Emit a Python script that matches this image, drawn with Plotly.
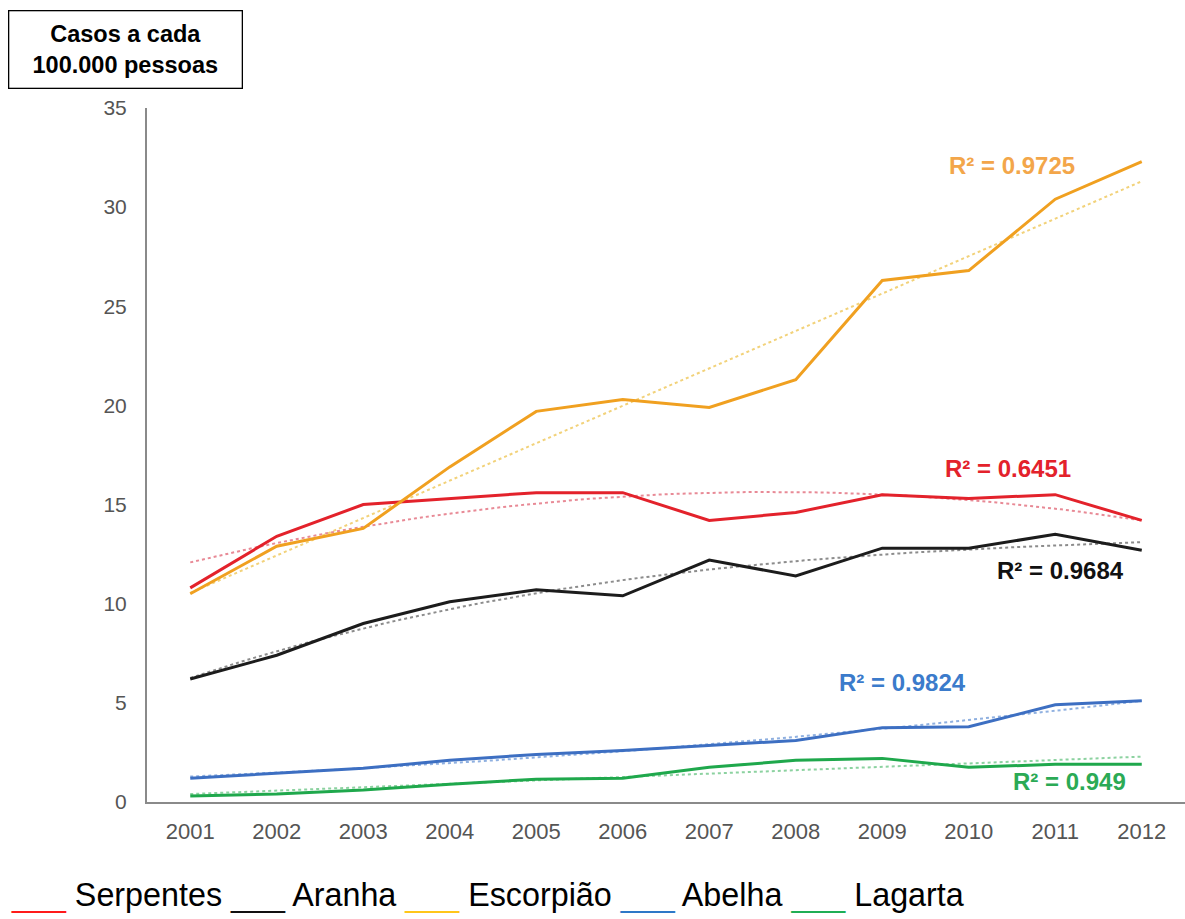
import numpy as np
import plotly.graph_objects as go

years = [2001, 2002, 2003, 2004, 2005, 2006, 2007, 2008, 2009, 2010, 2011, 2012]
serpentes = [10.8, 13.4, 15.0, 15.3, 15.6, 15.6, 14.2, 14.6, 15.5, 15.3, 15.5, 14.2]
aranha = [6.2, 7.4, 9.0, 10.1, 10.7, 10.4, 12.2, 11.4, 12.8, 12.8, 13.5, 12.7]
escorpiao = [10.5, 12.9, 13.8, 16.9, 19.7, 20.3, 19.9, 21.3, 26.3, 26.8, 30.4, 32.3]
abelha = [1.2, 1.45, 1.7, 2.1, 2.4, 2.6, 2.85, 3.1, 3.75, 3.8, 4.9, 5.1]
lagarta = [0.3, 0.4, 0.6, 0.9, 1.15, 1.2, 1.75, 2.1, 2.2, 1.75, 1.9, 1.9]

series_names = ["Serpentes", "Aranha", "Escorpião", "Abelha", "Lagarta"]
r2_labels = ["R² = 0.6451", "R² = 0.9684", "R² = 0.9725", "R² = 0.9824", "R² = 0.949"]
y_ticks = [0, 5, 10, 15, 20, 25, 30, 35]

values = [serpentes, aranha, escorpiao, abelha, lagarta]
line_colors = ["#E3222B", "#1C1C1C", "#F0A020", "#3D6FC2", "#1FA84C"]
trend_colors = ["#E88A96", "#8C8C8C", "#F2D27A", "#8FB0E0", "#8CD2A0"]
label_colors = ["#E3222B", "#111111", "#F3A64A", "#3B7BCB", "#2BAA55"]
legend_colors = ["#FF1A1A", "#111111", "#FFC61A", "#2E78C7", "#1FAE55"]
trend_degree = [2, 3, 1, 2, 1]
label_pos = [(2010.45, 16.84), (2011.06, 11.70), (2010.50, 32.12), (2009.23, 6.05), (2011.17, 1.01)]

x = np.array(years, dtype=float)
xs = np.linspace(x[0], x[-1], 60)

fig = go.Figure()
for vals, tc, deg in zip(values, trend_colors, trend_degree):
    coef = np.polyfit(x - 2001, np.array(vals), deg)
    fig.add_trace(go.Scatter(x=xs, y=np.polyval(coef, xs - 2001), mode="lines",
                             line=dict(color=tc, width=2, dash="dot"),
                             showlegend=False, hoverinfo="skip"))
for name, vals, lc in zip(series_names, values, line_colors):
    fig.add_trace(go.Scatter(x=years, y=vals, mode="lines", name=name,
                             line=dict(color=lc, width=3), showlegend=False))

for txt, col, (px, py) in zip(r2_labels, label_colors, label_pos):
    fig.add_annotation(x=px, y=py, text=f"<b>{txt}</b>", showarrow=False,
                       font=dict(family="Liberation Sans, Arial", size=24, color=col))

fig.update_xaxes(range=[2000.5, 2012.5], tickvals=years, ticktext=[str(y) for y in years],
                 showgrid=False, zeroline=False, showline=True, linecolor="#8A8A8A",
                 linewidth=2, ticks="", ticklabelstandoff=9,
                 tickfont=dict(family="Liberation Sans, Arial", size=22, color="#555555"))
fig.update_yaxes(range=[0, 35], tickvals=y_ticks, showgrid=False, zeroline=False,
                 showline=True, linecolor="#8A8A8A", linewidth=2, ticks="",
                 ticklabelstandoff=14,
                 tickfont=dict(family="Liberation Sans, Arial", size=21, color="#555555"))

# title box
fig.add_annotation(xref="paper", yref="paper", x=(8 - 147) / 1038, y=(802 - 10) / 694,
                   xanchor="left", yanchor="top",
                   text="<b>Casos a cada<br>100.000 pessoas</b>", showarrow=False,
                   font=dict(family="Liberation Sans, Arial", size=23.5, color="#000000"),
                   bordercolor="#000000", borderwidth=1.3, borderpad=6, bgcolor="#FFFFFF",
                   width=220, height=64, align="center")

# legend text at bottom
parts = []
for name, col in zip(series_names, legend_colors):
    parts.append(f"<span style='color:{col}'>___</span> {name}")
fig.add_annotation(xref="paper", yref="paper", x=(9 - 147) / 1038, y=(802 - 895) / 694,
                   xanchor="left", yanchor="middle",
                   text=" ".join(parts), showarrow=False,
                   font=dict(family="Liberation Sans, Arial", size=32.3, color="#000000"))

fig.update_layout(width=1185, height=919, margin=dict(l=147, r=0, t=108, b=117),
                  plot_bgcolor="#FFFFFF", paper_bgcolor="#FFFFFF", showlegend=False)

fig.write_html("out.html")
